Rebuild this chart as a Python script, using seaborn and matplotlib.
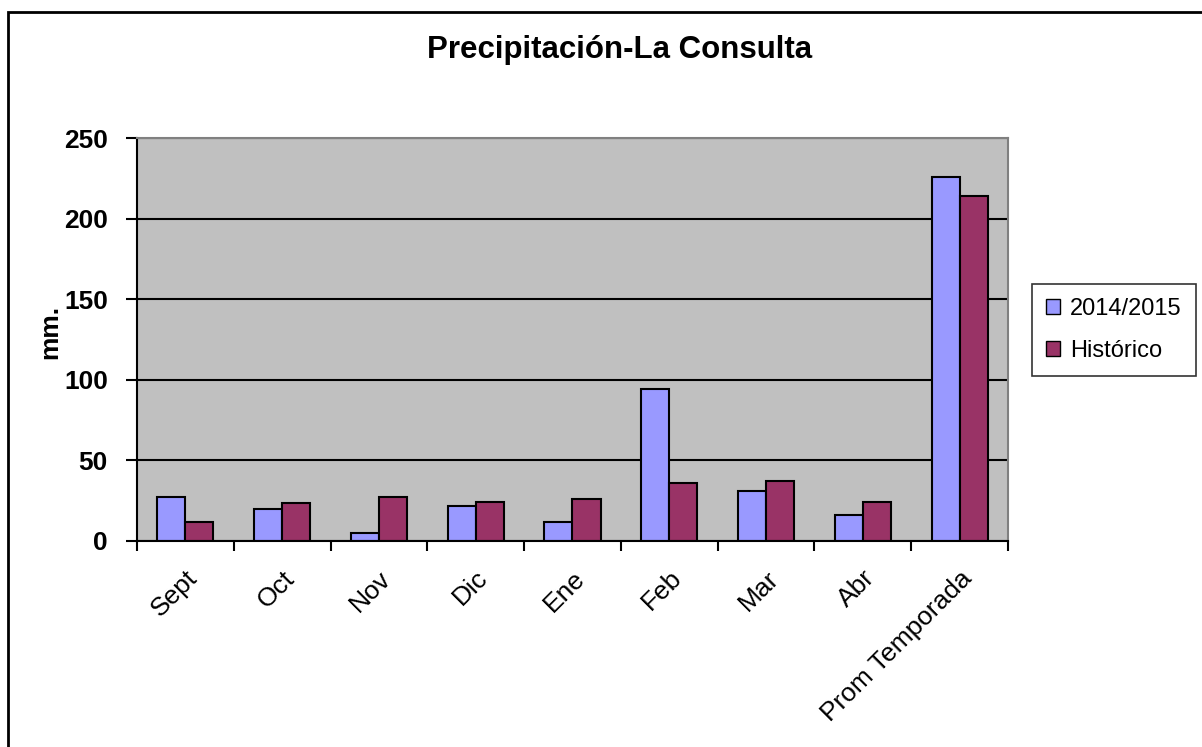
import numpy as np
import pandas as pd
import matplotlib
matplotlib.use('Agg')
import matplotlib.pyplot as plt
import seaborn as sns
from matplotlib.patches import Rectangle

meses = ['Sept', 'Oct', 'Nov', 'Dic', 'Ene', 'Feb', 'Mar', 'Abr', 'Prom Temporada']
temporada = [27, 20, 5, 22, 12, 94, 31, 16, 226]
historico = [12, 23.5, 27, 24.5, 26, 36, 37, 24.5, 214]
series = ['2014/2015', 'Histórico']

data = pd.DataFrame({
    'Mes': meses * 2,
    'mm': temporada + historico,
    'Serie': [series[0]] * len(meses) + [series[1]] * len(meses),
})

sns.set_style('white')
plt.rcParams['font.family'] = ['Liberation Sans', 'DejaVu Sans']
plt.rcParams['text.color'] = 'black'
plt.rcParams['xtick.color'] = 'black'
plt.rcParams['ytick.color'] = 'black'
plt.rcParams['axes.labelcolor'] = 'black'

fig = plt.figure(figsize=(12.02, 7.47), dpi=100)
ax = fig.add_axes([137 / 1202, 1 - 541 / 747, (1008 - 137) / 1202, (541 - 138) / 747])
ax.set_facecolor('#C0C0C0')

sns.barplot(data=data, x='Mes', y='mm', hue='Serie', palette=['#9999FF', '#993366'],
            width=0.58, saturation=1, edgecolor='black', linewidth=1.5, ax=ax)

ax.set_ylim(0, 250)
ax.set_xlim(-0.5, len(meses) - 0.5)
ax.set_yticks(range(0, 251, 50))
ax.yaxis.grid(True, color='black', linewidth=1.5)
ax.set_axisbelow(True)

for s in ['top', 'right']:
    ax.spines[s].set_color('#808080')
    ax.spines[s].set_linewidth(1.5)
for s in ['left', 'bottom']:
    ax.spines[s].set_color('black')
    ax.spines[s].set_linewidth(1.5)

ax.tick_params(axis='y', length=8, width=1.5, color='black', direction='out', left=True, pad=13)
for t in ax.get_yticklabels():
    t.set_fontsize(19)
    t.set_fontweight('bold')

ax.set_xticks(np.arange(len(meses)))
ax.set_xticklabels(meses, rotation=45, ha='right', rotation_mode='anchor', fontsize=19)
ax.tick_params(axis='x', which='major', length=0, pad=18)
ax.set_xticks(np.arange(-0.5, len(meses)), minor=True)
ax.tick_params(axis='x', which='minor', length=7, width=1.5, color='black', direction='out', bottom=True)

ax.set_xlabel('')
ax.set_ylabel('mm.', fontsize=19, fontweight='bold')
ax.yaxis.set_label_coords(-0.086, 0.52)

ax.get_legend().remove()
handles, labels = ax.get_legend_handles_labels()
leg = fig.legend(handles, labels, loc='center left', bbox_to_anchor=(1032 / 1202, 1 - 330 / 747),
                 fontsize=17, frameon=True, fancybox=False, edgecolor='black',
                 handlelength=0.6, handleheight=0.6, handletextpad=0.4, labelspacing=0.85,
                 borderpad=0.6, borderaxespad=0)
leg.get_frame().set_linewidth(1.2)
for h in leg.legend_handles:
    h.set_edgecolor('black')
    h.set_linewidth(1)

fig.text(620 / 1202, 1 - 50 / 747, 'Precipitación-La Consulta', ha='center', va='center',
         fontsize=22.5, fontweight='bold')

fig.patches.append(Rectangle((8 / 1202, -0.1), 1.2, 1 - 12 / 747 + 0.1, transform=fig.transFigure,
                             fill=False, edgecolor='black', linewidth=2, zorder=0))

fig.savefig('out.png', dpi=100)
